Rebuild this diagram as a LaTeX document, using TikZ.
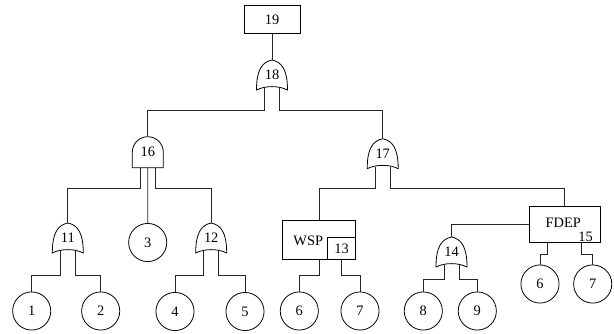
\documentclass[tikz,border=0pt]{standalone}
\usepackage{fontspec}
\setmainfont{Liberation Serif}
\usetikzlibrary{calc}

\tikzset{
  every node/.style={font=\fontsize{10.8}{13}\selectfont},
  wire/.style={draw=black!85, line width=0.6pt},
  outline/.style={draw=black, line width=0.6pt},
  ev/.style={circle, outline, minimum size=28.6pt, inner sep=0pt},
  topbox/.style={rectangle, outline, minimum width=42pt, minimum height=21.5pt, inner sep=0pt},
  gatebox/.style={rectangle, draw=none, minimum width=23.25pt, minimum height=22.5pt, inner sep=0pt},
  wspbox/.style={rectangle, outline, minimum width=54.75pt, minimum height=29pt, inner sep=0pt},
  idbox/.style={rectangle, outline, minimum width=21.3pt, minimum height=16.5pt, inner sep=0pt},
  fdepbox/.style={rectangle, outline, minimum width=53.25pt, minimum height=26.7pt, inner sep=0pt},
  plain/.style={inner sep=0pt}
}

% OR gate: pointed top, convex sides, concave base; legs at (-7.5,13) and (7.5,13)
\newcommand\orgate[3]{%
  \begin{scope}[shift={(#2)}]
    \draw[outline] (0,-15) .. controls (10,-13) and (15.5,-5) .. (15.5,15)
      .. controls (7,10.5) and (-7,10.5) .. (-15.5,15)
      .. controls (-15.5,-5) and (-10,-13) .. (0,-15) -- cycle;
    \coordinate (#1-l) at (-7.5,13);
    \coordinate (#1-r) at (7.5,13);
  \end{scope}
  \node[gatebox] (#1) at (#2) {#3};
}

% AND gate: semicircular dome over a flat-bottomed body
\newcommand\andgate[3]{%
  \begin{scope}[shift={(#2)}]
    \draw[outline] (-15.5,15.5) -- (-15.5,0)
      .. controls (-15.5,-8.56) and (-8.56,-15.5) .. (0,-15.5)
      .. controls (8.56,-15.5) and (15.5,-8.56) .. (15.5,0)
      -- (15.5,15.5) -- cycle;
    \coordinate (#1-l) at (-7.5,15.5);
    \coordinate (#1-m) at (0,15.5);
    \coordinate (#1-r) at (7.5,15.5);
  \end{scope}
  \node[draw=none, minimum width=23.25pt, minimum height=23.25pt, inner sep=0pt] (#1) at (#2) {#3};
}

\begin{document}
\begin{tikzpicture}[x=0.75pt, y=-0.75pt]
  \useasboundingbox (0,0) rectangle (614,333);

  % bus levels
  \coordinate (lvA) at (0,110);
  \coordinate (lvB) at (0,188);
  \coordinate (lvC) at (0,275);
  \coordinate (lvD) at (0,279);
  \coordinate (lvE) at (0,254);

  % top event and gates
  \node[topbox] (b19) at (272,19.5) {19};
  \orgate{g18}{272,75}{18}
  \andgate{g16}{147.8,152.2}{16}
  \orgate{g17}{382.7,153.7}{17}
  \orgate{g11}{67.8,238}{11}
  \orgate{g12}{211.2,238}{12}
  \orgate{g14}{451.5,252}{14}

  % WSP spare gate
  \node[wspbox] (wsp) at (319.2,240) {};
  \node[plain] (wsptxt) at (308.3,241.2) {WSP};
  \node[idbox, anchor=south east] (k13) at (wsp.south east) {13};

  % FDEP gate
  \node[fdepbox] (fdep) at (564.5,224.5) {};
  \node[plain] (fdeptxt) at (563.3,222.5) {FDEP};
  \node[plain] (k15) at (585.5,237) {15};

  % basic events
  \node[ev] (e1) at (31.7,311) {1};
  \node[ev] (e2) at (100.7,311) {2};
  \node[ev] (e3) at (147.7,242.5) {3};
  \node[ev] (e4) at (175,311.5) {4};
  \node[ev] (e5) at (245,311.5) {5};
  \node[ev] (e6) at (299.3,311) {6};
  \node[ev] (e7) at (360,311) {7};
  \node[ev] (e8) at (423.3,311) {8};
  \node[ev] (e9) at (477.3,311) {9};
  \node[ev] (e6b) at (540,284) {6};
  \node[ev] (e7b) at (592.7,284) {7};

  % connectors
  \draw[wire] (b19.south) -- (g18.north);
  \draw[wire] (g18-l) -- (g18-l |- lvA) -| (g16.north);
  \draw[wire] (g18-r) -- (g18-r |- lvA) -| (g17.north);

  \draw[wire] (g16-l) -- (g16-l |- lvB) -| (g11.north);
  \draw[wire] (g16-m) -- (e3.north);
  \draw[wire] (g16-r) -- (g16-r |- lvB) -| (g12.north);

  \draw[wire] (g17-l) -- (g17-l |- lvB) -| (wsp.north);
  \draw[wire] (g17-r) -- (g17-r |- lvB) -| (fdep.north);

  \draw[wire] (g11-l) -- (g11-l |- lvC) -| (e1.north);
  \draw[wire] (g11-r) -- (g11-r |- lvC) -| (e2.north);
  \draw[wire] (g12-l) -- (g12-l |- lvC) -| (e4.north);
  \draw[wire] (g12-r) -- (g12-r |- lvC) -| (e5.north);

  \draw[wire] (wsp.south) -- (wsp.south |- lvC) -| (e6.north);
  \draw[wire] (k13.south) -- (k13.south |- lvC) -| (e7.north);

  \draw[wire] (fdep.west) -| (g14.north);
  \draw[wire] (g14-l) -- (g14-l |- lvD) -| (e8.north);
  \draw[wire] (g14-r) -- (g14-r |- lvD) -| (e9.north);

  \coordinate (fdl) at ($(fdep.south)+(-17,0)$);
  \coordinate (fdr) at ($(fdep.south)+(16.5,0)$);
  \draw[wire] (fdl) -- (fdl |- lvE) -| (e6b.north);
  \draw[wire] (fdr) -- (fdr |- lvE) -| (e7b.north);
\end{tikzpicture}
\end{document}
